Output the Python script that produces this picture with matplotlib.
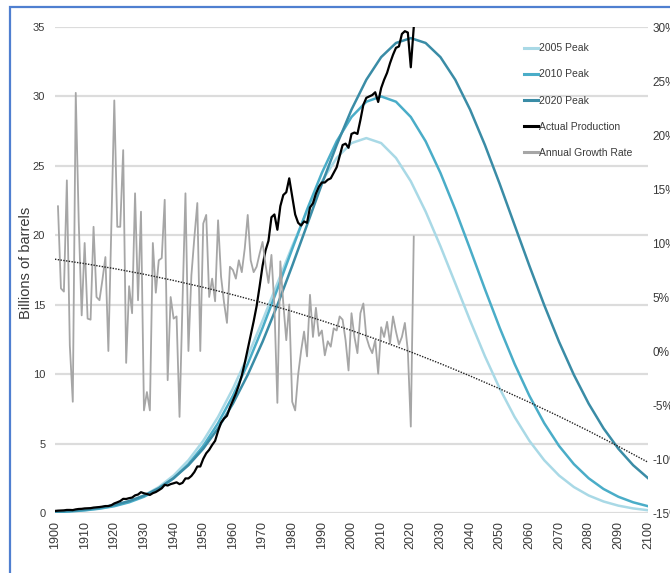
import numpy as np
import matplotlib
matplotlib.use("Agg")
import matplotlib.pyplot as plt
from matplotlib.lines import Line2D
from matplotlib.patches import Rectangle
from matplotlib import font_manager

# ---- values ----
prod_years = list(range(1900, 2022))
actual_production = [
    0.15, 0.17, 0.18, 0.19, 0.22, 0.22, 0.21, 0.26, 0.29, 0.30,   # 1900s
    0.33, 0.34, 0.35, 0.39, 0.41, 0.43, 0.46, 0.50, 0.50, 0.56,   # 1910s
    0.69, 0.77, 0.86, 1.02, 1.01, 1.07, 1.11, 1.27, 1.33, 1.50,   # 1920s
    1.42, 1.37, 1.30, 1.43, 1.51, 1.64, 1.78, 2.03, 1.98, 2.08,   # 1930s
    2.14, 2.21, 2.08, 2.17, 2.49, 2.49, 2.67, 2.95, 3.35, 3.35,   # 1940s
    3.90, 4.30, 4.55, 4.90, 5.20, 5.90, 6.50, 6.80, 7.00, 7.60,   # 1950s
    8.10, 8.60, 9.20, 9.90, 10.8, 11.8, 12.8, 13.8, 14.9, 16.3,   # 1960s
    17.8, 18.9, 19.6, 21.3, 21.5, 20.4, 22.1, 22.9, 23.1, 24.1,   # 1970s
    22.8, 21.5, 20.9, 20.7, 21.0, 20.9, 22.0, 22.3, 23.0, 23.5,   # 1980s
    23.8, 23.8, 24.0, 24.1, 24.5, 24.9, 25.7, 26.5, 26.6, 26.3,   # 1990s
    27.3, 27.4, 27.3, 28.3, 29.4, 29.9, 30.0, 30.1, 30.3, 29.6,   # 2000s
    30.6, 31.2, 31.7, 32.4, 33.0, 33.5, 33.6, 34.5, 34.7, 34.6,   # 2010s
    32.1, 35.0,                                                   # 2020s
]

growth_years = list(range(1901, 2022))
growth_rate = [
    13.4, 5.8, 5.5, 15.8, 0.5, -4.7, 23.9, 12.0, 3.3,             # 1901-09
    10.0, 3.0, 2.9, 11.5, 5.0, 4.7, 6.6, 8.7, 0.0, 11.5,          # 1910s
    23.2, 11.5, 11.5, 18.6, -1.1, 6.0, 3.5, 14.6, 4.7, 12.9,      # 1920s
    -5.5, -3.8, -5.5, 10.0, 5.4, 8.4, 8.6, 14.0, -2.7, 5.0,       # 1930s
    3.0, 3.2, -6.1, 4.5, 14.6, 0.0, 7.0, 10.5, 13.7, 0.0,         # 1940s
    11.8, 12.6, 5.0, 6.7, 4.6, 12.1, 6.9, 4.5, 2.6, 7.8,          # 1950s
    7.5, 6.7, 8.4, 7.3, 9.5, 12.6, 8.4, 7.3, 7.8, 9.0,            # 1960s
    10.1, 8.0, 6.3, 8.9, 4.1, -4.8, 8.3, 4.4, 1.0, 4.3,           # 1970s
    -4.7, -5.5, -2.2, 0.0, 1.8, -0.5, 5.2, 1.3, 4.0, 1.4,         # 1980s
    1.9, -0.4, 0.9, 0.4, 2.1, 1.9, 3.2, 2.9, 1.0, -1.8,           # 1990s
    3.5, 1.3, -0.2, 3.5, 4.4, 1.3, 0.4, -0.2, 1.0, -2.1,          # 2000s
    2.2, 1.3, 2.7, 0.7, 3.2, 1.8, 0.6, 1.3, 2.6, 0.0,             # 2010s
    -7.0, 10.6,                                                   # 2020s
]

hubbert_years = list(range(1900, 2101, 5))
peak_2005 = [0.07, 0.12, 0.20, 0.33, 0.53, 0.83, 1.26, 1.87, 2.70, 3.80,
             5.20, 6.92, 8.96, 11.29, 13.86, 16.54, 19.21, 21.71, 23.89, 25.57,
             26.64, 27.0, 26.64, 25.57, 23.89, 21.71, 19.21, 16.54, 13.86, 11.29,
             8.96, 6.92, 5.20, 3.80, 2.70, 1.87, 1.26, 0.83, 0.53, 0.33, 0.20]
peak_2010 = [0.06, 0.11, 0.19, 0.31, 0.49, 0.77, 1.17, 1.73, 2.50, 3.52,
             4.83, 6.47, 8.44, 10.74, 13.33, 16.12, 19.01, 21.85, 24.49, 26.77,
             28.52, 29.62, 30.0, 29.62, 28.52, 26.77, 24.49, 21.85, 19.01, 16.12,
             13.33, 10.74, 8.44, 6.47, 4.83, 3.52, 2.50, 1.73, 1.17, 0.77, 0.49]
peak_2020 = [0.10, 0.15, 0.24, 0.38, 0.58, 0.86, 1.25, 1.79, 2.51, 3.44,
             4.63, 6.10, 7.87, 9.95, 12.33, 14.97, 17.80, 20.74, 23.69, 26.50,
             29.05, 31.20, 32.83, 33.85, 34.2, 33.85, 32.83, 31.20, 29.05, 26.50,
             23.69, 20.74, 17.80, 14.97, 12.33, 9.95, 7.87, 6.10, 4.63, 3.44, 2.51]

trend_years = list(range(1900, 2101, 10))
growth_trend = [8.5, 8.09, 7.63, 7.11, 6.53, 5.90, 5.21, 4.47, 3.67, 2.81, 1.90,
                0.93, -0.09, -1.17, -2.31, -3.50, -4.75, -6.05, -7.41, -8.83, -10.3]

left_ticks = [0, 5, 10, 15, 20, 25, 30, 35]
right_ticks = [-15, -10, -5, 0, 5, 10, 15, 20, 25, 30]
year_ticks = list(range(1900, 2101, 10))

series_labels = ["2005 Peak", "2010 Peak", "2020 Peak", "Actual Production", "Annual Growth Rate"]
series_colors = ["#a9d9e6", "#4aadc8", "#3a8ca6", "#000000", "#a6a6a6"]

# ---- fonts ----
installed = {f.name for f in font_manager.fontManager.ttflist}
narrow = "Liberation Sans Narrow" if "Liberation Sans Narrow" in installed else "Liberation Sans"
plt.rcParams["font.family"] = ["Liberation Sans", "DejaVu Sans"]
text_col = "#3a3a3a"

fig = plt.figure(figsize=(6.7, 5.73), dpi=100)
W, H = 670.0, 573.0
ax = fig.add_axes([55 / W, 1 - 513 / H, 593 / W, 486 / H])

ax.plot(hubbert_years, peak_2005, color=series_colors[0], lw=1.8, zorder=3)
ax.plot(hubbert_years, peak_2010, color=series_colors[1], lw=1.8, zorder=3)
ax.plot(hubbert_years, peak_2020, color=series_colors[2], lw=1.8, zorder=3)
ax.plot(prod_years, actual_production, color=series_colors[3], lw=1.6, zorder=4)

ax.set_xlim(1900, 2100)
ax.set_ylim(0, 35)
ax.set_yticks(left_ticks)
ax.set_yticklabels([str(v) for v in left_ticks], family=narrow, fontsize=8, color=text_col)
ax.set_xticks(year_ticks)
ax.set_xticklabels([str(y) for y in year_ticks], rotation=90, fontsize=9, color=text_col)
ax.tick_params(axis="y", length=0, pad=7)
ax.tick_params(axis="x", length=0, pad=6)
ax.yaxis.grid(True, color="#dcdcdc", lw=1.6)
ax.set_axisbelow(True)
for s in ax.spines.values():
    s.set_visible(False)
ax.set_ylabel("Billions of barrels", fontsize=10.5, color=text_col)
ax.yaxis.set_label_coords((33 - 55) / 593, (513 - 263) / 486)

ax2 = ax.twinx()
ax2.plot(growth_years, growth_rate, color=series_colors[4], lw=1.3, zorder=2)
ax2.plot(trend_years, growth_trend, color="#222222", lw=1.0, ls=(0, (1, 1)), zorder=2)
ax2.set_ylim(-15, 30)
ax2.set_yticks(right_ticks)
ax2.set_yticklabels([f"{v}%" for v in right_ticks], family=narrow, fontsize=8.5, color=text_col)
ax2.tick_params(axis="y", length=0, pad=3)
for s in ax2.spines.values():
    s.set_visible(False)

handles = [Line2D([], [], color=c, lw=2.2) for c in series_colors]
fig.legend(handles, series_labels, loc="upper left", bbox_to_anchor=(519 / W, 1 - 38 / H),
           frameon=False, handlelength=1.3, handletextpad=0.1, labelspacing=1.55,
           borderpad=0, prop={"family": narrow, "size": 7.5}, labelcolor=text_col)

# outer chart frame (only its top and left edges fall inside the image)
fig.add_artist(Rectangle((10 / W, -0.2), 1.2, 1.2 - 7 / H, transform=fig.transFigure,
                         fill=False, edgecolor="#4f7fd0", lw=1.6))

fig.savefig("out.png", dpi=100)
